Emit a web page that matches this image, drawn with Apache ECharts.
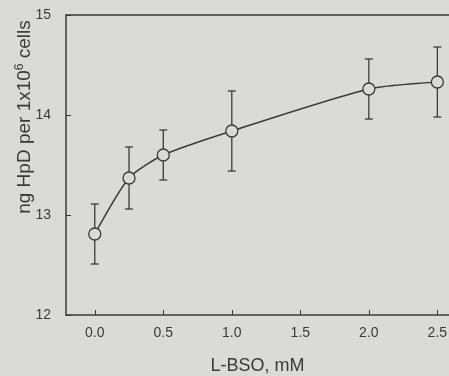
<!DOCTYPE html>
<html>
<head>
<meta charset="utf-8">
<script src="https://cdn.jsdelivr.net/npm/echarts@6/dist/echarts.min.js"></script>
<style>
  html, body { margin: 0; padding: 0; background: #dadad8; }
  #chart { width: 449px; height: 376px; }
</style>
</head>
<body>
<div id="chart"></div>
<script>
// L-BSO concentration, mM
const bso = [0.0, 0.25, 0.5, 1.0, 2.0, 2.5];
// ng HpD per 1x10^6 cells
const hpd = [12.81, 13.37, 13.6, 13.84, 14.26, 14.33];
// error bar half-width (SD)
const err = [0.3, 0.31, 0.25, 0.4, 0.3, 0.35];
const yTicks = [12, 13, 14, 15];

const ink = '#3a3a3a';
const bg = '#dadad8';
const chart = echarts.init(document.getElementById('chart'));

const points = bso.map((x, i) => [x, hpd[i]]);
const bars = bso.map((x, i) => [x, hpd[i] - err[i], hpd[i] + err[i]]);

const option = {
    backgroundColor: bg,
    animation: false,
    grid: {
        left: 66,
        right: 0,
        top: 15,
        bottom: 61,
        outerBoundsMode: 'none'
    },
    xAxis: [{
        type: 'value',
        min: -0.21,
        max: 2.585,
        name: 'L-BSO, mM',
        nameLocation: 'middle',
        nameGap: 42,
        nameTextStyle: { color: ink, fontSize: 18, fontFamily: 'Liberation Sans' },
        axisLine: { onZero: false, lineStyle: { color: ink, width: 1.5 } },
        axisTick: { inside: true, length: 5, lineStyle: { color: ink } },
        axisLabel: {
            color: ink, fontSize: 14, fontFamily: 'Liberation Sans', margin: 11,
            showMinLabel: false, showMaxLabel: false,
            formatter: v => v.toFixed(1)
        },
        splitLine: { show: false }
    }, {
        type: 'value',
        position: 'top',
        min: -0.21,
        max: 2.585,
        axisLine: { show: true, onZero: false, lineStyle: { color: ink, width: 1.5 } },
        axisTick: { show: false },
        axisLabel: { show: false },
        splitLine: { show: false }
    }],
    yAxis: {
        type: 'value',
        min: yTicks[0],
        max: yTicks[yTicks.length - 1],
        interval: 1,
        axisLine: { show: true, onZero: false, lineStyle: { color: ink, width: 1.5 } },
        axisTick: { show: true, inside: true, length: 5, lineStyle: { color: ink } },
        axisLabel: { color: ink, fontSize: 14, fontFamily: 'Liberation Sans', margin: 15 },
        splitLine: { show: false }
    },
    graphic: [{
        type: 'text',
        x: 25,
        y: 117,
        rotation: Math.PI / 2,
        style: {
            text: '{a|ng HpD per 1x10}{s|6}{a| cells}',
            rich: {
                a: { fontSize: 19, fontFamily: 'Liberation Sans', fill: ink, lineHeight: 22 },
                s: { fontSize: 12, fontFamily: 'Liberation Sans', fill: ink, lineHeight: 12, verticalAlign: 'top' }
            },
            align: 'center',
            verticalAlign: 'middle'
        }
    }],
    series: [
        {
            type: 'custom',
            data: bars,
            z: 2,
            renderItem: (params, api) => {
                const x = api.value(0);
                const lo = api.coord([x, api.value(1)]);
                const hi = api.coord([x, api.value(2)]);
                const cap = 4;
                const st = { stroke: ink, lineWidth: 1.3 };
                return {
                    type: 'group',
                    children: [
                        { type: 'line', shape: { x1: lo[0], y1: lo[1], x2: hi[0], y2: hi[1] }, style: st },
                        { type: 'line', shape: { x1: lo[0] - cap, y1: lo[1], x2: lo[0] + cap, y2: lo[1] }, style: st },
                        { type: 'line', shape: { x1: hi[0] - cap, y1: hi[1], x2: hi[0] + cap, y2: hi[1] }, style: st }
                    ]
                };
            }
        },
        {
            type: 'line',
            data: points,
            smooth: 0.22,
            z: 3,
            symbol: 'circle',
            symbolSize: 12,
            lineStyle: { color: ink, width: 1.5 },
            itemStyle: { color: bg, borderColor: ink, borderWidth: 1.3 }
        }
    ]
};

chart.setOption(option);
</script>
</body>
</html>
